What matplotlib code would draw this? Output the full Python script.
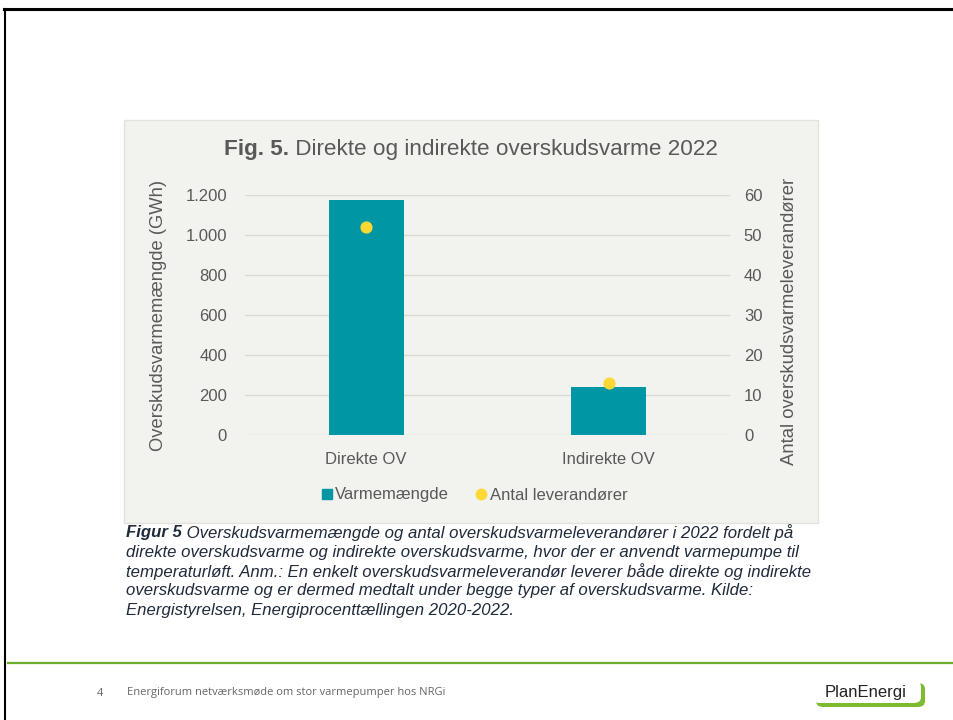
import matplotlib.pyplot as plt
from matplotlib.lines import Line2D
from matplotlib.patches import Rectangle, FancyBboxPatch

# data
categories = ['Direkte OV', 'Indirekte OV']
varmemaengde = [1175, 240]          # GWh
leverandoerer = [52, 13]            # antal
left_ticks = [0, 200, 400, 600, 800, 1000, 1200]
left_labels = ['0', '200', '400', '600', '800', '1.000', '1.200']
right_ticks = [0, 10, 20, 30, 40, 50, 60]

TEAL = '#0096a4'
YELLOW = '#fdd835'
GREY_TXT = '#595959'
W, H = 954, 720

plt.rcParams['font.family'] = ['Liberation Sans', 'DejaVu Sans']

fig = plt.figure(figsize=(W / 100, H / 100), dpi=100)
fig.patch.set_facecolor('white')


def fx(px):
    return px / W


def fy(py):
    return 1 - py / H


# slide frame
fig.add_artist(Line2D([fx(4), 1], [fy(9), fy(9)], color='black', lw=2.2))
fig.add_artist(Line2D([fx(5), fx(5)], [fy(9), 0], color='black', lw=1.5))
fig.add_artist(Line2D([fx(8), 1], [fy(663), fy(663)], color='#6aad2f', lw=1.6))

# chart box background (behind the axes)
fig.add_artist(Rectangle((fx(124), fy(523)), fx(818) - fx(124), fy(120) - fy(523),
                         facecolor='#f2f2ef', edgecolor='#e2e2df', lw=1.0, zorder=-10))

ax = fig.add_axes([fx(245), fy(435), fx(730) - fx(245), fy(195) - fy(435)])
ax.set_facecolor('none')
x = range(len(categories))
ax.bar(x, varmemaengde, width=0.31, color=TEAL, zorder=3)
ax.set_xlim(-0.5, 1.5)
ax.set_ylim(0, 1200)
ax.set_yticks(left_ticks)
ax.set_yticklabels(left_labels)
ax.set_xticks(list(x))
ax.set_xticklabels(categories)
ax.grid(axis='y', color='#d9d9d9', lw=1.0, zorder=0)
ax.set_axisbelow(True)
ax.tick_params(length=0, labelsize=12, colors=GREY_TXT)
ax.tick_params(axis='x', pad=12)
ax.tick_params(axis='y', pad=13)
for s in ax.spines.values():
    s.set_visible(False)
ax.set_ylabel('Overskudsvarmemængde (GWh)', fontsize=13.2, color=GREY_TXT, labelpad=13)

ax2 = ax.twinx()
ax2.scatter(x, leverandoerer, s=60, color=YELLOW, zorder=4)
ax2.set_ylim(0, 60)
ax2.set_yticks(right_ticks)
ax2.tick_params(length=0, labelsize=12, colors=GREY_TXT, pad=10)
for s in ax2.spines.values():
    s.set_visible(False)
ax2.set_ylabel('Antal overskudsvarmeleverandører', fontsize=13.3, color=GREY_TXT)
ax2.yaxis.set_label_coords(1.106, 0.475)

# title (bold + regular part)
renderer = fig.canvas.get_renderer()
t1 = fig.text(fx(224), fy(150), 'Fig. 5.', fontsize=16.2, fontweight='bold',
              color=GREY_TXT, va='center')
bb = t1.get_window_extent(renderer)
fig.text(bb.x1 / W, fy(150), ' Direkte og indirekte overskudsvarme 2022', fontsize=16.2,
         color=GREY_TXT, va='center')

# legend
handles = [Line2D([], [], marker='s', ls='', color=TEAL, markersize=7),
           Line2D([], [], marker='o', ls='', color=YELLOW, markersize=7.5)]
fig.legend(handles, ['Varmemængde', 'Antal leverandører'], loc='center',
           bbox_to_anchor=(fx(474), fy(495)), ncol=2, frameon=False, fontsize=12,
           labelcolor=GREY_TXT, handletextpad=0.15, columnspacing=1.6, handlelength=0.7)

# caption
cap_font = ['Liberation Sans Narrow', 'Liberation Sans', 'DejaVu Sans']
cap_color = '#1f2a3a'
cap_size = 12.1
cap_lines = [
    ' Overskudsvarmemængde og antal overskudsvarmeleverandører i 2022 fordelt på',
    'direkte overskudsvarme og indirekte overskudsvarme, hvor der er anvendt varmepumpe til',
    'temperaturløft. Anm.: En enkelt overskudsvarmeleverandør leverer både direkte og indirekte',
    'overskudsvarme og er dermed medtalt under begge typer af overskudsvarme. Kilde:',
    'Energistyrelsen, Energiprocenttællingen 2020-2022.',
]
c0 = fig.text(fx(126), fy(533), 'Figur 5', fontsize=cap_size, fontweight='bold', style='italic',
              family=cap_font, color=cap_color, va='center')
bb = c0.get_window_extent(renderer)
for i, line in enumerate(cap_lines):
    xpos = bb.x1 / W if i == 0 else fx(126)
    fig.text(xpos, fy(533 + i * 19.3), line, fontsize=cap_size, style='italic',
             family=cap_font, color=cap_color, va='center')

# footer
fig.text(fx(97), fy(693), '4', fontsize=8, color='#666666', family=['Open Sans', 'DejaVu Sans'],
         va='center')
fig.text(fx(127), fy(693), 'Energiforum netværksmøde om stor varmepumper hos NRGi', fontsize=8,
         color='#666666', family=['Open Sans', 'DejaVu Sans'], va='center')

# logo
fig.add_artist(FancyBboxPatch((fx(816), fy(707)), fx(925) - fx(816), fy(683) - fy(707),
                              boxstyle='round,pad=0,rounding_size=0.008',
                              facecolor='#7dbb2f', edgecolor='none'))
fig.add_artist(FancyBboxPatch((fx(812), fy(703)), fx(921) - fx(812), fy(681) - fy(703),
                              boxstyle='round,pad=0,rounding_size=0.008',
                              facecolor='white', edgecolor='none'))
fig.text(fx(866), fy(692), 'PlanEnergi', fontsize=12, color='#222222', ha='center',
         va='center', family=['Liberation Sans Narrow', 'Liberation Sans'])

fig.savefig('out.png', dpi=100)
